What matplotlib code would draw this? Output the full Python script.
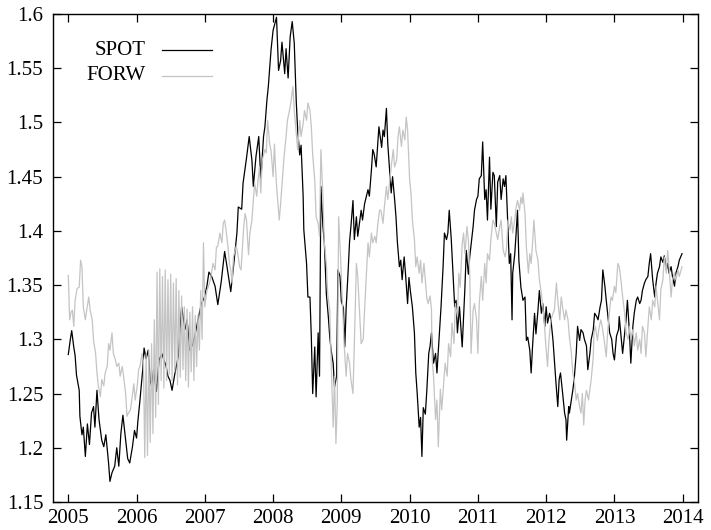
import numpy as np
import matplotlib
matplotlib.use("Agg")
import matplotlib.pyplot as plt
from matplotlib.lines import Line2D

# (year, rate) pairs
spot = [
    (2005.00, 1.286), (2005.03, 1.300), (2005.05, 1.308), (2005.08, 1.293), (2005.10, 1.285),
    (2005.12, 1.267), (2005.16, 1.253), (2005.17, 1.229), (2005.20, 1.212), (2005.22, 1.219),
    (2005.25, 1.192), (2005.28, 1.222), (2005.31, 1.203), (2005.34, 1.232), (2005.37, 1.238),
    (2005.39, 1.219), (2005.42, 1.253), (2005.45, 1.226), (2005.49, 1.207), (2005.52, 1.201),
    (2005.55, 1.212), (2005.59, 1.186), (2005.61, 1.169), (2005.64, 1.177), (2005.68, 1.183),
    (2005.71, 1.200), (2005.74, 1.183), (2005.77, 1.213), (2005.80, 1.230), (2005.84, 1.207),
    (2005.87, 1.190), (2005.90, 1.186), (2005.94, 1.201), (2005.97, 1.216), (2006.00, 1.209),
    (2006.02, 1.225), (2006.05, 1.244), (2006.09, 1.272), (2006.11, 1.292), (2006.14, 1.282),
    (2006.17, 1.290), (2006.20, 1.262), (2006.22, 1.257), (2006.25, 1.272), (2006.29, 1.252),
    (2006.33, 1.281), (2006.37, 1.287), (2006.40, 1.281), (2006.43, 1.276), (2006.46, 1.266),
    (2006.49, 1.262), (2006.52, 1.253), (2006.56, 1.268), (2006.61, 1.284), (2006.66, 1.330),
    (2006.71, 1.309), (2006.74, 1.318), (2006.78, 1.290), (2006.82, 1.295), (2006.85, 1.302),
    (2006.90, 1.318), (2006.95, 1.333), (2006.99, 1.338), (2007.03, 1.349), (2007.06, 1.362),
    (2007.10, 1.358), (2007.15, 1.349), (2007.19, 1.332), (2007.24, 1.353), (2007.29, 1.381),
    (2007.32, 1.369), (2007.38, 1.344), (2007.42, 1.367), (2007.47, 1.398), (2007.49, 1.422),
    (2007.54, 1.420), (2007.56, 1.444), (2007.61, 1.467), (2007.65, 1.487), (2007.69, 1.465),
    (2007.71, 1.441), (2007.75, 1.469), (2007.79, 1.487), (2007.82, 1.447), (2007.86, 1.487),
    (2007.88, 1.496), (2007.91, 1.521), (2007.93, 1.533), (2007.97, 1.567), (2008.00, 1.585),
    (2008.05, 1.597), (2008.08, 1.548), (2008.11, 1.557), (2008.13, 1.574), (2008.17, 1.545),
    (2008.19, 1.568), (2008.22, 1.541), (2008.25, 1.579), (2008.28, 1.593), (2008.31, 1.573),
    (2008.34, 1.518), (2008.36, 1.493), (2008.39, 1.470), (2008.41, 1.479), (2008.44, 1.432),
    (2008.45, 1.401), (2008.49, 1.370), (2008.51, 1.339), (2008.54, 1.339), (2008.56, 1.302),
    (2008.58, 1.250), (2008.61, 1.293), (2008.63, 1.247), (2008.66, 1.306), (2008.68, 1.266),
    (2008.70, 1.441), (2008.73, 1.404), (2008.75, 1.390), (2008.78, 1.342), (2008.81, 1.320),
    (2008.83, 1.302), (2008.85, 1.290), (2008.88, 1.278), (2008.90, 1.256), (2008.93, 1.266),
    (2008.95, 1.364), (2008.98, 1.358), (2009.00, 1.335), (2009.03, 1.329), (2009.05, 1.293),
    (2009.07, 1.329), (2009.10, 1.364), (2009.12, 1.390), (2009.14, 1.404), (2009.17, 1.428),
    (2009.19, 1.392), (2009.22, 1.413), (2009.24, 1.395), (2009.29, 1.419), (2009.31, 1.410),
    (2009.34, 1.425), (2009.39, 1.438), (2009.41, 1.432), (2009.44, 1.456), (2009.46, 1.475),
    (2009.48, 1.471), (2009.51, 1.459), (2009.55, 1.496), (2009.59, 1.477), (2009.61, 1.493),
    (2009.63, 1.487), (2009.66, 1.513), (2009.68, 1.480), (2009.71, 1.453), (2009.73, 1.435),
    (2009.75, 1.450), (2009.78, 1.429), (2009.80, 1.413), (2009.82, 1.390), (2009.85, 1.367),
    (2009.87, 1.373), (2009.89, 1.355), (2009.92, 1.376), (2009.94, 1.360), (2009.97, 1.333),
    (2009.99, 1.357), (2010.01, 1.345), (2010.04, 1.330), (2010.07, 1.306), (2010.09, 1.269),
    (2010.11, 1.251), (2010.14, 1.219), (2010.16, 1.228), (2010.18, 1.192), (2010.20, 1.237),
    (2010.23, 1.231), (2010.25, 1.251), (2010.28, 1.287), (2010.30, 1.294), (2010.32, 1.306),
    (2010.35, 1.278), (2010.38, 1.287), (2010.40, 1.269), (2010.46, 1.330), (2010.49, 1.367),
    (2010.51, 1.398), (2010.54, 1.392), (2010.56, 1.398), (2010.58, 1.419), (2010.61, 1.392),
    (2010.63, 1.367), (2010.66, 1.330), (2010.68, 1.336), (2010.70, 1.306), (2010.73, 1.330),
    (2010.75, 1.312), (2010.77, 1.293), (2010.81, 1.348), (2010.83, 1.382), (2010.86, 1.360),
    (2010.88, 1.376), (2010.93, 1.404), (2010.95, 1.419), (2010.98, 1.429), (2011.00, 1.432),
    (2011.02, 1.448), (2011.05, 1.451), (2011.07, 1.482), (2011.10, 1.429), (2011.12, 1.438),
    (2011.14, 1.410), (2011.17, 1.468), (2011.19, 1.420), (2011.22, 1.454), (2011.24, 1.451),
    (2011.27, 1.404), (2011.29, 1.445), (2011.32, 1.451), (2011.34, 1.429), (2011.37, 1.448),
    (2011.39, 1.441), (2011.41, 1.451), (2011.46, 1.370), (2011.48, 1.379), (2011.50, 1.318),
    (2011.51, 1.361), (2011.54, 1.379), (2011.56, 1.398), (2011.58, 1.419), (2011.60, 1.373),
    (2011.63, 1.348), (2011.66, 1.336), (2011.69, 1.339), (2011.71, 1.299), (2011.73, 1.302),
    (2011.76, 1.290), (2011.78, 1.269), (2011.80, 1.293), (2011.83, 1.324), (2011.85, 1.305),
    (2011.88, 1.327), (2011.90, 1.345), (2011.93, 1.324), (2011.95, 1.333), (2011.98, 1.312),
    (2012.00, 1.330), (2012.02, 1.315), (2012.05, 1.324), (2012.07, 1.318), (2012.10, 1.299),
    (2012.12, 1.281), (2012.14, 1.263), (2012.17, 1.238), (2012.19, 1.263), (2012.21, 1.269),
    (2012.24, 1.251), (2012.27, 1.232), (2012.29, 1.226), (2012.30, 1.207), (2012.33, 1.238),
    (2012.34, 1.232), (2012.39, 1.253), (2012.41, 1.263), (2012.44, 1.287), (2012.46, 1.312),
    (2012.49, 1.299), (2012.51, 1.309), (2012.54, 1.306), (2012.56, 1.300), (2012.59, 1.294),
    (2012.61, 1.272), (2012.64, 1.287), (2012.66, 1.300), (2012.69, 1.309), (2012.71, 1.324),
    (2012.74, 1.321), (2012.76, 1.318), (2012.79, 1.330), (2012.81, 1.336), (2012.83, 1.364),
    (2012.86, 1.349), (2012.88, 1.336), (2012.91, 1.318), (2012.93, 1.306), (2012.96, 1.300),
    (2012.98, 1.287), (2013.00, 1.281), (2013.03, 1.303), (2013.06, 1.309), (2013.07, 1.321),
    (2013.10, 1.300), (2013.12, 1.287), (2013.15, 1.306), (2013.17, 1.318), (2013.19, 1.336),
    (2013.22, 1.306), (2013.24, 1.278), (2013.27, 1.312), (2013.29, 1.324), (2013.32, 1.336),
    (2013.34, 1.339), (2013.37, 1.333), (2013.39, 1.336), (2013.41, 1.345), (2013.44, 1.352),
    (2013.46, 1.355), (2013.49, 1.358), (2013.51, 1.370), (2013.53, 1.379), (2013.56, 1.355),
    (2013.59, 1.339), (2013.61, 1.352), (2013.63, 1.361), (2013.66, 1.367), (2013.68, 1.376),
    (2013.71, 1.371), (2013.73, 1.377), (2013.76, 1.364), (2013.78, 1.370), (2013.80, 1.361),
    (2013.83, 1.367), (2013.85, 1.358), (2013.88, 1.349), (2013.90, 1.361), (2013.93, 1.367),
    (2013.95, 1.373), (2013.99, 1.379),
]

forw = [
    (2005.00, 1.359), (2005.02, 1.318), (2005.04, 1.325), (2005.06, 1.327), (2005.08, 1.312),
    (2005.10, 1.336), (2005.13, 1.347), (2005.16, 1.348), (2005.18, 1.373), (2005.20, 1.367),
    (2005.22, 1.330), (2005.25, 1.318), (2005.27, 1.327), (2005.30, 1.339), (2005.32, 1.327),
    (2005.35, 1.318), (2005.37, 1.299), (2005.40, 1.287), (2005.42, 1.269), (2005.44, 1.257),
    (2005.47, 1.247), (2005.49, 1.263), (2005.52, 1.257), (2005.54, 1.269), (2005.57, 1.275),
    (2005.59, 1.296), (2005.61, 1.290), (2005.64, 1.306), (2005.66, 1.287), (2005.69, 1.281),
    (2005.71, 1.275), (2005.74, 1.278), (2005.76, 1.266), (2005.79, 1.275), (2005.81, 1.266),
    (2005.84, 1.250), (2005.86, 1.229), (2005.88, 1.232), (2005.91, 1.235), (2005.93, 1.244),
    (2005.96, 1.259), (2005.98, 1.244), (2006.01, 1.257), (2006.03, 1.272), (2006.05, 1.275),
    (2006.08, 1.287), (2006.10, 1.280), (2006.12, 1.191), (2006.14, 1.286), (2006.16, 1.193),
    (2006.18, 1.290), (2006.20, 1.205), (2006.22, 1.296), (2006.24, 1.213), (2006.26, 1.318),
    (2006.28, 1.228), (2006.30, 1.362), (2006.32, 1.240), (2006.34, 1.365), (2006.36, 1.262),
    (2006.38, 1.358), (2006.40, 1.255), (2006.42, 1.364), (2006.44, 1.262), (2006.46, 1.355),
    (2006.48, 1.268), (2006.50, 1.360), (2006.52, 1.262), (2006.54, 1.352), (2006.56, 1.270),
    (2006.58, 1.356), (2006.60, 1.258), (2006.62, 1.345), (2006.64, 1.265), (2006.66, 1.340),
    (2006.68, 1.272), (2006.70, 1.330), (2006.72, 1.262), (2006.74, 1.328), (2006.76, 1.256),
    (2006.78, 1.325), (2006.80, 1.270), (2006.82, 1.330), (2006.84, 1.262), (2006.86, 1.322),
    (2006.88, 1.275), (2006.90, 1.322), (2006.92, 1.290), (2006.94, 1.345), (2006.96, 1.300),
    (2006.98, 1.389), (2007.00, 1.330), (2007.03, 1.345), (2007.05, 1.348), (2007.08, 1.355),
    (2007.10, 1.362), (2007.12, 1.370), (2007.15, 1.364), (2007.17, 1.385), (2007.19, 1.386),
    (2007.22, 1.398), (2007.25, 1.389), (2007.27, 1.407), (2007.29, 1.410), (2007.31, 1.401),
    (2007.34, 1.385), (2007.36, 1.370), (2007.38, 1.364), (2007.40, 1.352), (2007.42, 1.376),
    (2007.46, 1.386), (2007.48, 1.380), (2007.51, 1.367), (2007.53, 1.364), (2007.57, 1.404),
    (2007.59, 1.416), (2007.61, 1.410), (2007.64, 1.378), (2007.66, 1.398), (2007.69, 1.410),
    (2007.71, 1.428), (2007.73, 1.444), (2007.76, 1.432), (2007.78, 1.447), (2007.80, 1.459),
    (2007.82, 1.435), (2007.84, 1.465), (2007.88, 1.475), (2007.90, 1.472), (2007.92, 1.502),
    (2007.95, 1.480), (2007.97, 1.474), (2008.00, 1.450), (2008.02, 1.480), (2008.03, 1.465),
    (2008.05, 1.442), (2008.09, 1.410), (2008.11, 1.425), (2008.14, 1.450), (2008.16, 1.468),
    (2008.19, 1.487), (2008.21, 1.502), (2008.24, 1.511), (2008.26, 1.518), (2008.29, 1.533),
    (2008.31, 1.511), (2008.34, 1.490), (2008.36, 1.475), (2008.39, 1.502), (2008.41, 1.487),
    (2008.44, 1.499), (2008.46, 1.511), (2008.49, 1.502), (2008.51, 1.518), (2008.54, 1.511),
    (2008.56, 1.496), (2008.58, 1.470), (2008.61, 1.447), (2008.63, 1.413), (2008.66, 1.407),
    (2008.68, 1.395), (2008.70, 1.475), (2008.73, 1.432), (2008.75, 1.389), (2008.78, 1.370),
    (2008.80, 1.342), (2008.83, 1.327), (2008.85, 1.281), (2008.88, 1.219), (2008.90, 1.266),
    (2008.92, 1.204), (2008.94, 1.241), (2008.96, 1.413), (2008.99, 1.373), (2009.02, 1.327),
    (2009.04, 1.296), (2009.07, 1.266), (2009.09, 1.287), (2009.12, 1.278), (2009.14, 1.263),
    (2009.17, 1.250), (2009.19, 1.296), (2009.22, 1.370), (2009.24, 1.358), (2009.26, 1.333),
    (2009.29, 1.296), (2009.32, 1.300), (2009.34, 1.327), (2009.37, 1.364), (2009.39, 1.389),
    (2009.41, 1.376), (2009.44, 1.398), (2009.46, 1.389), (2009.49, 1.395), (2009.51, 1.389),
    (2009.53, 1.404), (2009.56, 1.419), (2009.58, 1.419), (2009.61, 1.407), (2009.63, 1.422),
    (2009.66, 1.441), (2009.68, 1.429), (2009.71, 1.447), (2009.73, 1.459), (2009.76, 1.475),
    (2009.78, 1.459), (2009.81, 1.465), (2009.83, 1.487), (2009.85, 1.496), (2009.88, 1.478),
    (2009.90, 1.493), (2009.93, 1.484), (2009.95, 1.505), (2009.97, 1.493), (2010.00, 1.447),
    (2010.02, 1.435), (2010.04, 1.410), (2010.07, 1.392), (2010.09, 1.367), (2010.11, 1.376),
    (2010.14, 1.361), (2010.16, 1.373), (2010.18, 1.352), (2010.21, 1.370), (2010.23, 1.355),
    (2010.25, 1.339), (2010.27, 1.333), (2010.30, 1.340), (2010.32, 1.327), (2010.33, 1.281),
    (2010.35, 1.266), (2010.38, 1.226), (2010.40, 1.244), (2010.42, 1.201), (2010.45, 1.254),
    (2010.47, 1.235), (2010.50, 1.260), (2010.52, 1.278), (2010.55, 1.266), (2010.57, 1.296),
    (2010.60, 1.284), (2010.62, 1.315), (2010.65, 1.296), (2010.67, 1.333), (2010.70, 1.321),
    (2010.72, 1.361), (2010.74, 1.348), (2010.77, 1.388), (2010.79, 1.398), (2010.81, 1.379),
    (2010.84, 1.404), (2010.86, 1.392), (2010.88, 1.361), (2010.90, 1.287), (2010.93, 1.327),
    (2010.95, 1.333), (2010.98, 1.318), (2011.00, 1.287), (2011.02, 1.333), (2011.05, 1.358),
    (2011.07, 1.336), (2011.10, 1.370), (2011.12, 1.352), (2011.14, 1.379), (2011.17, 1.373),
    (2011.19, 1.392), (2011.22, 1.410), (2011.24, 1.407), (2011.27, 1.398), (2011.29, 1.392),
    (2011.32, 1.404), (2011.34, 1.410), (2011.37, 1.382), (2011.40, 1.376), (2011.42, 1.385),
    (2011.44, 1.410), (2011.47, 1.401), (2011.49, 1.413), (2011.51, 1.398), (2011.54, 1.410),
    (2011.56, 1.422), (2011.58, 1.428), (2011.61, 1.419), (2011.63, 1.431), (2011.65, 1.425),
    (2011.66, 1.435), (2011.69, 1.416), (2011.71, 1.385), (2011.74, 1.361), (2011.76, 1.379),
    (2011.78, 1.370), (2011.80, 1.388), (2011.82, 1.410), (2011.85, 1.382), (2011.88, 1.373),
    (2011.90, 1.355), (2011.93, 1.342), (2011.95, 1.330), (2011.97, 1.318), (2011.99, 1.299),
    (2012.02, 1.275), (2012.04, 1.299), (2012.07, 1.318), (2012.10, 1.324), (2012.12, 1.327),
    (2012.15, 1.352), (2012.17, 1.336), (2012.20, 1.318), (2012.22, 1.339), (2012.24, 1.330),
    (2012.27, 1.318), (2012.29, 1.327), (2012.32, 1.318), (2012.34, 1.302), (2012.37, 1.287),
    (2012.39, 1.269), (2012.41, 1.263), (2012.44, 1.244), (2012.46, 1.250), (2012.49, 1.238),
    (2012.51, 1.232), (2012.53, 1.250), (2012.55, 1.221), (2012.57, 1.244), (2012.59, 1.253),
    (2012.62, 1.244), (2012.66, 1.263), (2012.69, 1.284), (2012.70, 1.306), (2012.72, 1.312),
    (2012.75, 1.299), (2012.77, 1.309), (2012.80, 1.318), (2012.82, 1.312), (2012.85, 1.299),
    (2012.88, 1.284), (2012.90, 1.306), (2012.93, 1.327), (2012.95, 1.339), (2012.97, 1.336),
    (2013.00, 1.349), (2013.02, 1.343), (2013.05, 1.370), (2013.07, 1.367), (2013.10, 1.352),
    (2013.12, 1.339), (2013.15, 1.324), (2013.17, 1.306), (2013.20, 1.300), (2013.22, 1.312),
    (2013.24, 1.300), (2013.27, 1.309), (2013.29, 1.294), (2013.32, 1.306), (2013.34, 1.290),
    (2013.37, 1.300), (2013.39, 1.287), (2013.41, 1.312), (2013.44, 1.306), (2013.46, 1.284),
    (2013.49, 1.312), (2013.51, 1.330), (2013.54, 1.318), (2013.56, 1.336), (2013.59, 1.330),
    (2013.61, 1.349), (2013.63, 1.336), (2013.66, 1.318), (2013.68, 1.346), (2013.71, 1.355),
    (2013.73, 1.376), (2013.76, 1.361), (2013.78, 1.382), (2013.80, 1.367), (2013.83, 1.339),
    (2013.85, 1.355), (2013.88, 1.361), (2013.90, 1.355), (2013.93, 1.364), (2013.95, 1.358),
    (2013.99, 1.367),
]

years = list(range(2005, 2015))
yticks = [1.15, 1.2, 1.25, 1.3, 1.35, 1.4, 1.45, 1.5, 1.55, 1.6]

spot_t, spot_v = np.array(spot).T
forw_t, forw_v = np.array(forw).T

plt.rcParams['font.family'] = ['Liberation Serif', 'DejaVu Serif']
plt.rcParams['font.size'] = 15

fig = plt.figure(figsize=(7.11, 5.30), dpi=100)
ax = fig.add_axes([53 / 711, 28 / 530, 645 / 711, 488 / 530])

ax.plot(spot_t, spot_v, color='black', lw=0.9)
ax.plot(forw_t, forw_v, color='#c4c4c4', lw=0.9)

ax.set_xlim(2004.776, 2014.224)
ax.set_ylim(1.15, 1.6)
ax.set_xticks(years)
ax.set_yticks(yticks)
ax.set_yticklabels(['%g' % v for v in yticks])
ax.tick_params(direction='in', length=6, width=0.9, top=True, right=True)
ax.tick_params(axis='y', pad=7)
ax.tick_params(axis='x', pad=5)
for s in ax.spines.values():
    s.set_linewidth(1.0)

# gnuplot-style key: right-aligned text, sample line after it
keys = [('SPOT', 'black', 0.926), ('FORW', '#c4c4c4', 0.873)]
for name, col, yk in keys:
    ax.text(0.144, yk, name, transform=ax.transAxes, ha='right', va='center')
    ax.add_line(Line2D([0.169, 0.2465], [yk, yk], transform=ax.transAxes,
                       color=col, lw=0.9))

fig.savefig('out.png', dpi=100)
